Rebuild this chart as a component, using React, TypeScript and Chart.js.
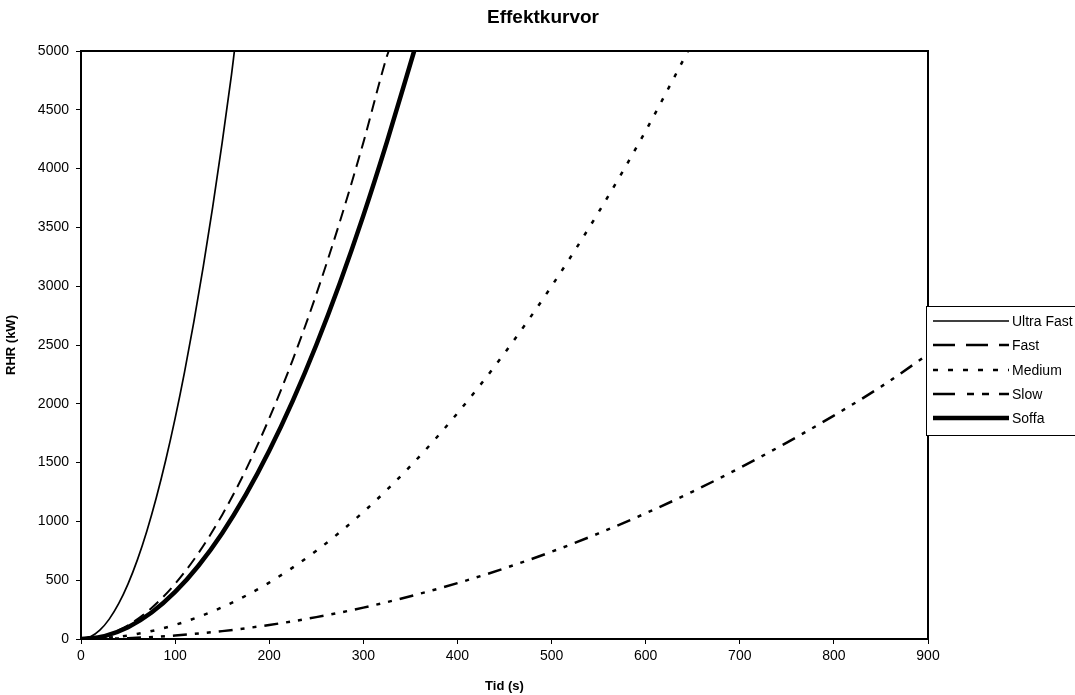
import React, { useEffect, useRef } from "react";
import { Chart, registerables } from "chart.js";

Chart.register(...registerables);

const chartTitle = "Effektkurvor";
const seriesNames = ["Ultra Fast", "Fast", "Medium", "Slow", "Soffa"];

const ultraFastT = [0, 10, 20, 30, 40, 50, 60, 70, 80, 90, 100, 110, 120, 130, 140, 150, 160, 163];
const ultraFastQ = [0, 19, 75, 169, 300, 469, 675, 919, 1201, 1520, 1876, 2270, 2701, 3170, 3677, 4221, 4803, 5000];

const fastT = [0, 25, 50, 75, 100, 125, 150, 175, 200, 225, 250, 275, 300, 325, 327];
const fastQ = [0, 29, 117, 264, 469, 733, 1055, 1436, 1876, 2374, 2931, 3547, 4221, 4954, 5000];

const mediumT = [0, 50, 100, 150, 200, 250, 300, 350, 400, 450, 500, 550, 600, 645];
const mediumQ = [0, 30, 120, 270, 480, 750, 1080, 1470, 1920, 2430, 3000, 3630, 4320, 5000];

const slowT = [0, 50, 100, 150, 200, 250, 300, 350, 400, 450, 500, 550, 600, 650, 700, 750, 800, 850, 900];
const slowQ = [0, 7, 30, 67, 119, 186, 267, 364, 475, 601, 742, 898, 1069, 1254, 1455, 1670, 1900, 2145, 2420];

const soffaT = [0, 25, 50, 75, 100, 125, 150, 175, 200, 225, 250, 275, 300, 325, 354];
const soffaQ = [0, 25, 100, 225, 400, 625, 900, 1225, 1600, 2025, 2500, 3025, 3600, 4225, 5000];

const xTicks = [0, 100, 200, 300, 400, 500, 600, 700, 800, 900];
const yTicks = [0, 500, 1000, 1500, 2000, 2500, 3000, 3500, 4000, 4500, 5000];

const pts = (t: number[], q: number[]) => t.map((x, i) => ({ x, y: q[i] }));

const FONT = "'Liberation Sans', Arial, sans-serif";

const legendStyles = [
  { width: 1.5, dash: [] as number[] },
  { width: 2.5, dash: [22, 11] },
  { width: 2.5, dash: [5, 10] },
  { width: 2.5, dash: [22, 12, 7, 8, 7, 10] },
  { width: 4.5, dash: [] as number[] },
];

const framePlugin = {
  id: "frame",
  afterDatasetsDraw(chart: any) {
    const { ctx, chartArea } = chart;
    ctx.save();
    ctx.strokeStyle = "#000";
    ctx.lineWidth = 2;
    ctx.beginPath();
    ctx.moveTo(chartArea.left, chartArea.top);
    ctx.lineTo(chartArea.right, chartArea.top);
    ctx.lineTo(chartArea.right, chartArea.bottom);
    ctx.stroke();
    ctx.restore();
  },
  afterDraw(chart: any) {
    const { ctx } = chart;
    ctx.save();
    ctx.fillStyle = "#000";
    ctx.font = "bold 19px " + FONT;
    ctx.textAlign = "center";
    ctx.textBaseline = "middle";
    ctx.fillText(chartTitle, 543, 18);
    const left = 926.5;
    const top = 306.5;
    const bottom = 435.5;
    ctx.fillStyle = "#fff";
    ctx.fillRect(left, top, 200, bottom - top);
    ctx.strokeStyle = "#000";
    ctx.lineWidth = 1;
    ctx.strokeRect(left, top, 200, bottom - top);
    const ys = [321, 345, 370, 394, 418];
    ctx.font = "14px " + FONT;
    ctx.textBaseline = "middle";
    ctx.textAlign = "left";
    seriesNames.forEach((name, i) => {
      const st = legendStyles[i];
      ctx.beginPath();
      ctx.setLineDash(st.dash);
      ctx.lineWidth = st.width;
      ctx.lineCap = "butt";
      ctx.moveTo(933, ys[i]);
      ctx.lineTo(1009, ys[i]);
      ctx.stroke();
      ctx.setLineDash([]);
      ctx.fillStyle = "#000";
      ctx.fillText(name, 1012, ys[i] + 1);
    });
    ctx.restore();
  },
};

export default function App() {
  const ref = useRef<HTMLCanvasElement>(null);
  useEffect(() => {
    if (!ref.current) return;
    const mk = (label: string, data: any, width: number, dash: number[]) => ({
      label,
      data,
      borderColor: "#000",
      backgroundColor: "#000",
      borderWidth: width,
      borderDash: dash,
      pointRadius: 0,
      cubicInterpolationMode: "monotone" as const,
      fill: false,
    });
    const chart = new Chart(ref.current, {
      type: "line",
      data: {
        datasets: [
          mk(seriesNames[0], pts(ultraFastT, ultraFastQ), 1.7, []),
          mk(seriesNames[1], pts(fastT, fastQ), 2, [12, 7]),
          mk(seriesNames[2], pts(mediumT, mediumQ), 2.5, [4, 10]),
          mk(seriesNames[3], pts(slowT, slowQ), 2.5, [14, 8, 4, 8, 4, 8]),
          mk(seriesNames[4], pts(soffaT, soffaQ), 4.5, []),
        ],
      },
      plugins: [framePlugin],
      options: {
        animation: false,
        responsive: false,
        maintainAspectRatio: false,
        layout: { padding: { left: 0, right: 147, top: 51, bottom: 0 } },
        plugins: {
          legend: { display: false },
          tooltip: { enabled: false },
          title: { display: false },
        },
        scales: {
          x: {
            type: "linear",
            min: 0,
            max: 900,
            afterBuildTicks: (s: any) => {
              s.ticks = xTicks.map((v) => ({ value: v }));
            },
            afterFit: (s: any) => {
              s.height = 56;
            },
            grid: { drawOnChartArea: false, drawTicks: true, tickLength: 5, color: "#000", lineWidth: 1 },
            border: { display: true, color: "#000", width: 2 },
            ticks: {
              color: "#000",
              font: { family: FONT, size: 14 },
              padding: 4,
              maxRotation: 0,
              callback: (v: any) => String(v),
            },
            title: {
              display: true,
              text: "Tid (s)",
              color: "#000",
              font: { family: FONT, size: 13, weight: "bold" },
              padding: { top: 0, bottom: 1 },
            },
          },
          y: {
            type: "linear",
            min: 0,
            max: 5000,
            afterBuildTicks: (s: any) => {
              s.ticks = yTicks.map((v) => ({ value: v }));
            },
            afterFit: (s: any) => {
              s.width = 81;
            },
            grid: { drawOnChartArea: false, drawTicks: true, tickLength: 5, color: "#000", lineWidth: 1 },
            border: { display: true, color: "#000", width: 2 },
            ticks: {
              color: "#000",
              font: { family: FONT, size: 14 },
              padding: 7,
              callback: (v: any) => String(v),
            },
            title: {
              display: true,
              text: "RHR (kW)",
              color: "#000",
              font: { family: FONT, size: 13, weight: "bold" },
              padding: { top: 4, bottom: 0 },
            },
          },
        },
      },
    });
    return () => chart.destroy();
  }, []);
  return (
    <div style={{ position: "fixed", left: 0, top: 0, width: 1075, height: 695, background: "#fff" }}>
      <canvas ref={ref} width={1075} height={695} style={{ display: "block" }} />
    </div>
  );
}
